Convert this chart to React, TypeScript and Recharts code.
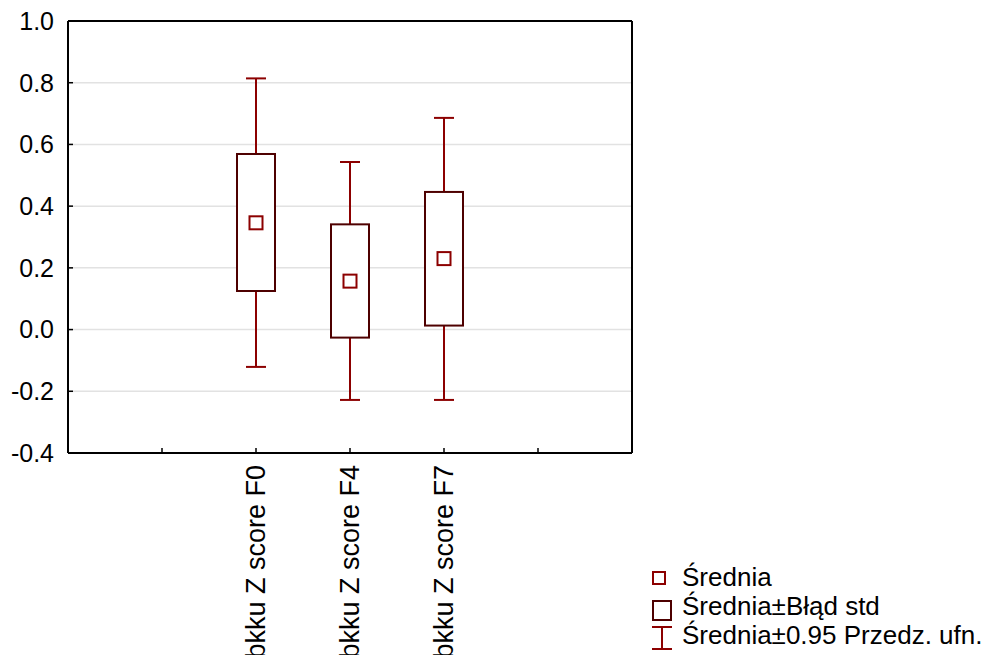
import React from 'react';
import {
  ComposedChart,
  Bar,
  Scatter,
  XAxis,
  YAxis,
  CartesianGrid,
} from 'recharts';

// category slots (blank slots keep the empty space either side)
const labels = ['', 'bkku Z score F0', 'bkku Z score F4', 'bkku Z score F7', ' '];
const means = [null, 0.346, 0.157, 0.23, null];
const boxLow = [null, 0.125, -0.026, 0.013, null];
const boxHigh = [null, 0.569, 0.341, 0.446, null];
const ciLow = [null, -0.121, -0.228, -0.228, null];
const ciHigh = [null, 0.814, 0.543, 0.686, null];

const yTicks = [-0.4, -0.2, 0, 0.2, 0.4, 0.6, 0.8, 1.0];

const FONT = '"Liberation Sans", Arial, sans-serif';
const WHISKER = '#8c0000';
const BOX = '#4e0000';

const data = labels.map((label, i) => ({
  label,
  mean: means[i],
  box: boxLow[i] == null ? null : [boxLow[i], boxHigh[i]],
  ci: ciLow[i] == null ? null : [ciLow[i], ciHigh[i]],
}));

const XTick = (props: any) => {
  const { x, y, payload } = props;
  const text = String(payload?.value ?? '');
  if (!text.trim()) return <g />;
  return (
    <text
      x={x}
      y={y}
      transform={`rotate(-90, ${x}, ${y})`}
      textAnchor="end"
      dominantBaseline="central"
      fontSize={27}
      fontFamily={FONT}
      fill="#000"
    >
      {text}
    </text>
  );
};

// whisker: vertical line with caps across the bar width
const WhiskerShape = (props: any) => {
  const { x, y, width, height, payload } = props;
  if (!payload || payload.ci == null) return <g />;
  const top = Math.min(y, y + height);
  const bottom = Math.max(y, y + height);
  const cx = x + width / 2;
  return (
    <g stroke={WHISKER} strokeWidth={2}>
      <line x1={cx} x2={cx} y1={top} y2={bottom} />
      <line x1={x} x2={x + width} y1={top} y2={top} />
      <line x1={x} x2={x + width} y1={bottom} y2={bottom} />
    </g>
  );
};

const BoxShape = (props: any) => {
  const { x, y, width, height, payload } = props;
  if (!payload || payload.box == null) return <g />;
  const top = Math.min(y, y + height);
  return (
    <rect
      x={x}
      y={top}
      width={width}
      height={Math.abs(height)}
      fill="#fff"
      stroke={BOX}
      strokeWidth={2}
    />
  );
};

const MeanShape = (props: any) => {
  const { cx, cy, payload } = props;
  if (!payload || payload.mean == null) return <g />;
  return (
    <rect x={cx - 6.5} y={cy - 6.5} width={13} height={13} fill="none" stroke={WHISKER} strokeWidth={2} />
  );
};

export default function App() {
  return (
    <div style={{ position: 'absolute', left: 0, top: 0, width: 986, height: 655, background: '#fff' }}>
      <ComposedChart
        width={986}
        height={655}
        data={data}
        margin={{ top: 11, right: 344, bottom: 0, left: 0 }}
      >
        <CartesianGrid horizontal vertical={false} stroke="#e2e2e2" strokeWidth={1.5} />
        <XAxis
          dataKey="label"
          type="category"
          height={202}
          padding={{ left: 47, right: 47 }}
          axisLine={{ stroke: '#000', strokeWidth: 2 }}
          tickLine={{ stroke: '#000', strokeWidth: 1.5 }}
          tickSize={-5}
          tickMargin={17}
          interval={0}
          tick={<XTick />}
        />
        <XAxis
          xAxisId="top"
          dataKey="label"
          type="category"
          orientation="top"
          height={10}
          padding={{ left: 47, right: 47 }}
          axisLine={{ stroke: '#000', strokeWidth: 2 }}
          tickLine={{ stroke: '#000', strokeWidth: 1.5 }}
          tickSize={-5}
          interval={0}
          tick={false}
        />
        <YAxis
          type="number"
          domain={[-0.4, 1.0]}
          ticks={yTicks}
          interval={0}
          width={68}
          axisLine={{ stroke: '#000', strokeWidth: 2 }}
          tickLine={{ stroke: '#000', strokeWidth: 1.5 }}
          tickSize={-5}
          tickMargin={19}
          tickFormatter={(v: number) => v.toFixed(1)}
          tick={{ fontSize: 25, fontFamily: FONT, fill: '#000' }}
        />
        <YAxis
          yAxisId="right"
          orientation="right"
          type="number"
          domain={[-0.4, 1.0]}
          ticks={yTicks}
          interval={0}
          width={10}
          axisLine={{ stroke: '#000', strokeWidth: 2 }}
          tickLine={{ stroke: '#000', strokeWidth: 1.5 }}
          tickSize={-5}
          tick={false}
        />
        <Bar dataKey="ci" barSize={20} shape={<WhiskerShape />} isAnimationActive={false} />
        <Bar xAxisId="top" dataKey="box" barSize={38} shape={<BoxShape />} isAnimationActive={false} />
        <Scatter dataKey="mean" shape={<MeanShape />} isAnimationActive={false} />
      </ComposedChart>

      <div
        style={{
          position: 'absolute',
          left: 652,
          top: 563,
          fontFamily: FONT,
          fontSize: 26,
          color: '#000',
          whiteSpace: 'nowrap',
        }}
      >
        <div style={{ display: 'flex', height: 29, lineHeight: '29px' }}>
          <svg width={30} height={29}>
            <rect x={1} y={9} width={12} height={12} fill="none" stroke={WHISKER} strokeWidth={2} />
          </svg>
          <span>Średnia</span>
        </div>
        <div style={{ display: 'flex', height: 29, lineHeight: '29px' }}>
          <svg width={30} height={29}>
            <rect x={1} y={9} width={18} height={19} fill="none" stroke={BOX} strokeWidth={2} />
          </svg>
          <span>Średnia±Błąd std</span>
        </div>
        <div style={{ display: 'flex', height: 29, lineHeight: '29px' }}>
          <svg width={30} height={29}>
            <g stroke={WHISKER} strokeWidth={2}>
              <line x1={10} x2={10} y1={6} y2={28} />
              <line x1={0} x2={20} y1={6} y2={6} />
              <line x1={0} x2={20} y1={28} y2={28} />
            </g>
          </svg>
          <span>Średnia±0.95 Przedz. ufn.</span>
        </div>
      </div>
    </div>
  );
}
